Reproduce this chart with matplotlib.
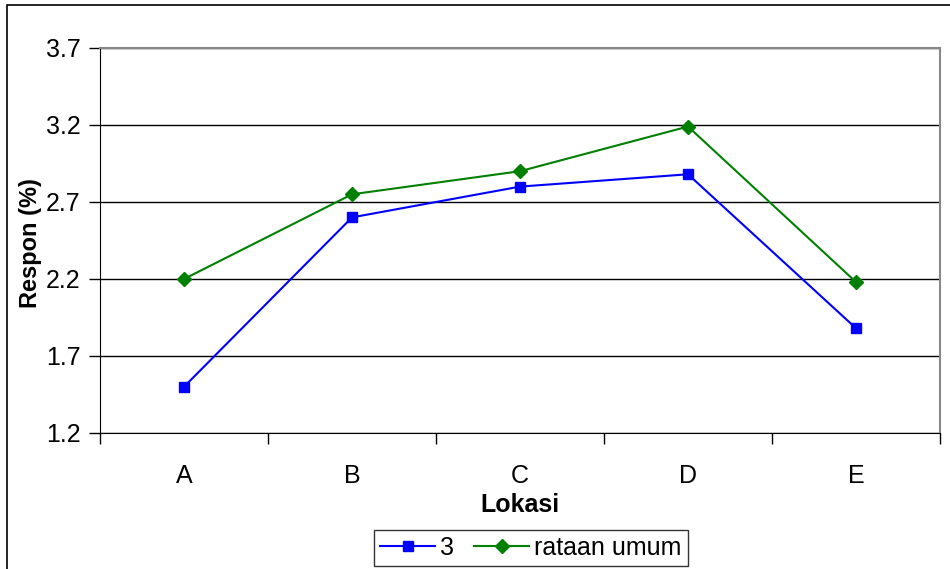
import matplotlib.pyplot as plt
from matplotlib.patches import Rectangle

plt.rcParams['font.family'] = ['Liberation Sans', 'DejaVu Sans']

lokasi = ['A', 'B', 'C', 'D', 'E']
seri3 = [1.50, 2.60, 2.80, 2.88, 1.88]
rataan = [2.20, 2.75, 2.90, 3.19, 2.18]
yticks = [1.2, 1.7, 2.2, 2.7, 3.2, 3.7]

fig = plt.figure(figsize=(9.5, 5.69), dpi=100)
ax = fig.add_axes([100/950, 1 - 433/569, 840/950, 385/569])

# outer chart border (cut off at right and bottom)
fig.patches.append(Rectangle((7/950, -0.1), 2, 1.1 - 5/569, transform=fig.transFigure,
                             fill=False, edgecolor='black', linewidth=1.2))

x = list(range(len(lokasi)))
ax.plot(x, seri3, color='#0000FF', marker='s', markersize=7.5, linewidth=1.5, label='3')
ax.plot(x, rataan, color='#008000', marker='D', markersize=7, linewidth=1.5, label='rataan umum')

ax.set_xlim(-0.5, len(lokasi) - 0.5)
ax.set_ylim(1.2, 3.7)
ax.set_yticks(yticks)
ax.set_yticklabels([f'{v:.1f}' for v in yticks])
ax.set_xticks(x)
ax.set_xticklabels(lokasi)
ax.set_xticks([i - 0.5 for i in range(len(lokasi) + 1)], minor=True)
ax.tick_params(axis='x', which='major', length=0, pad=22, labelsize=18)
ax.tick_params(axis='x', which='minor', length=8, direction='out', width=1)
ax.tick_params(axis='y', length=8, direction='out', width=1, labelsize=18, pad=6)

ax.grid(axis='y', color='black', linewidth=1)
ax.set_axisbelow(True)
for s in ['top', 'right']:
    ax.spines[s].set_color('#888888')
    ax.spines[s].set_linewidth(1.5)
for s in ['left', 'bottom']:
    ax.spines[s].set_color('black')

ax.set_xlabel('Lokasi', fontsize=18, fontweight='bold', labelpad=4)
ax.set_ylabel('Respon (%)', fontsize=17, fontweight='bold')
ax.yaxis.set_label_coords((42 - 100) / 840, (433 - 243) / 385)

leg = fig.legend(loc='lower center', bbox_to_anchor=(531/950, 3/569), ncol=2, fontsize=18,
                 frameon=True, fancybox=False, edgecolor='black', handlelength=2.2,
                 handletextpad=0.2, columnspacing=0.8, borderpad=0.25, borderaxespad=0.0)
leg.get_frame().set_linewidth(1)

fig.savefig('out.png', dpi=100)
